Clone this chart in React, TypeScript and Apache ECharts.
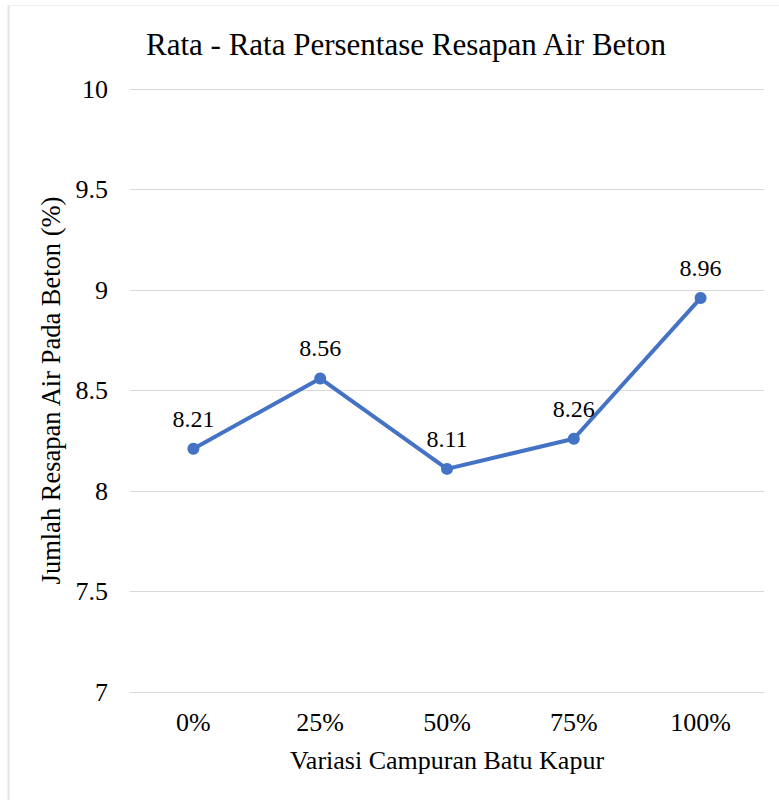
import React, { useEffect, useRef } from "react";
import * as echarts from "echarts";

const categories = ["0%", "25%", "50%", "75%", "100%"];
const values = [8.21, 8.56, 8.11, 8.26, 8.96];
const yTicks = { min: 7, max: 10, interval: 0.5 };

const FONT = "Liberation Serif";

export default function App() {
  const ref = useRef<HTMLDivElement>(null);
  useEffect(() => {
    if (!ref.current) return;
    const chart = echarts.init(ref.current, undefined, { renderer: "svg" });
    chart.setOption({
      animation: false,
      backgroundColor: "#ffffff",
      textStyle: { fontFamily: FONT },
      title: {
        text: "Rata - Rata Persentase Resapan Air Beton",
        left: 401,
        top: 24,
        textAlign: "center",
        textStyle: { fontFamily: FONT, fontSize: 31, fontWeight: "normal", color: "#000" },
      },
      graphic: [
        { type: "line", shape: { x1: 8.5, y1: 5, x2: 8.5, y2: 800 }, style: { stroke: "#e3e3e3", lineWidth: 2 } },
        { type: "line", shape: { x1: 8, y1: 5.5, x2: 779, y2: 5.5 }, style: { stroke: "#eeeeee", lineWidth: 1 } },
      ],
      grid: { left: 130, right: 15, top: 89, bottom: 108, containLabel: false },
      xAxis: {
        type: "category",
        data: categories,
        name: "Variasi Campuran Batu Kapur",
        nameLocation: "middle",
        nameGap: 55,
        nameTextStyle: { fontFamily: FONT, fontSize: 26, color: "#000" },
        axisLine: { show: true, lineStyle: { color: "#d9d9d9", width: 1 } },
        axisTick: { show: false },
        axisLabel: { fontFamily: FONT, fontSize: 26, color: "#000", margin: 17 },
      },
      yAxis: {
        type: "value",
        min: yTicks.min,
        max: yTicks.max,
        interval: yTicks.interval,
        name: "Jumlah Resapan Air Pada Beton (%)",
        nameLocation: "middle",
        nameGap: 60,
        nameTextStyle: { fontFamily: FONT, fontSize: 26.5, color: "#000" },
        axisLine: { show: false },
        axisTick: { show: false },
        axisLabel: { fontFamily: FONT, fontSize: 26, color: "#000", margin: 22 },
        splitLine: { show: true, lineStyle: { color: "#d9d9d9", width: 1.2 } },
      },
      series: [
        {
          type: "line",
          data: values,
          symbol: "circle",
          symbolSize: 12,
          lineStyle: { color: "#4472C4", width: 4 },
          itemStyle: { color: "#4472C4" },
          label: {
            show: true,
            position: "top",
            distance: 12,
            fontFamily: FONT,
            fontSize: 24,
            color: "#000",
          },
        },
      ],
    });
    return () => chart.dispose();
  }, []);
  return (
    <div
      ref={ref}
      style={{ position: "absolute", left: 0, top: 0, width: 779, height: 800 }}
    />
  );
}
